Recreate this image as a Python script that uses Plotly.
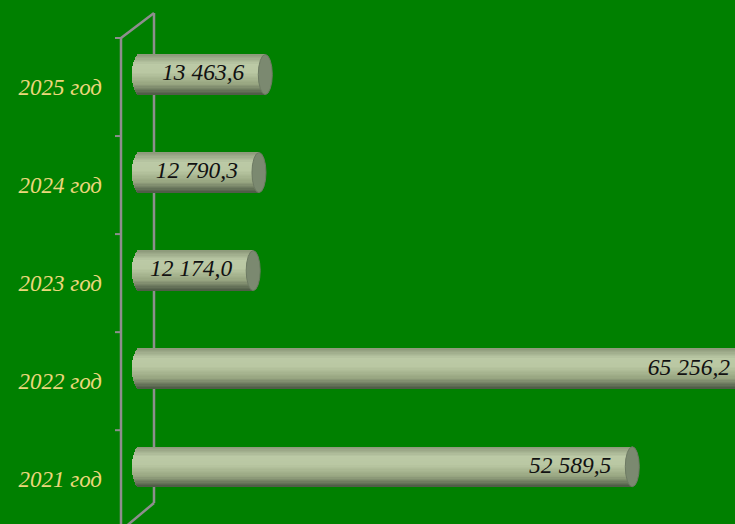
import numpy as np
import plotly.graph_objects as go

# data
years = ['2021 год', '2022 год', '2023 год', '2024 год', '2025 год']
values = [52589.5, 65256.2, 12174.0, 12790.3, 13463.6]
value_labels = ['52 589,5', '65 256,2', '12 174,0', '12 790,3', '13 463,6']

W, H = 735, 524
s = 0.00938          # px per unit along x
x_zero = 139         # pixel of x = 0
step = 98.05         # px between categories
c0 = 466.7           # pixel centre of first bar
depth_dx, depth_dy = 33, 25

xr = [-x_zero / s, (W - x_zero) / s]
yr = [(c0 - H) / step, c0 / step]
bw = 40 / step       # bar thickness in category units
cap = 7 / s          # half width of the ellipse ends

pos = list(range(len(years)))

def grad(t):
    # vertical shading of the cylinder, t = 0 top .. 1 bottom
    stops = [(0.0, (140, 152, 122)), (0.25, (188, 202, 166)), (0.45, (186, 200, 163)),
             (0.75, (150, 164, 128)), (1.0, (76, 88, 68))]
    for (t0, a), (t1, b) in zip(stops, stops[1:]):
        if t <= t1:
            f = (t - t0) / (t1 - t0)
            return 'rgb(%d,%d,%d)' % tuple(int(a[i] + (b[i] - a[i]) * f) for i in range(3))
    return 'rgb(76,88,68)'

fig = go.Figure()

N = 30
dh = bw / N
for k in range(N):
    t = (k + 0.5) / N
    u = 1 - 2 * t
    bulge = cap * np.sqrt(max(0.0, 1 - u * u))
    fig.add_trace(go.Bar(
        y=pos, x=[v + bulge for v in values], base=[-bulge] * len(values),
        orientation='h', width=dh * 1.05, offset=bw / 2 - (k + 1) * dh,
        marker=dict(color=grad(t), line=dict(width=0)),
        showlegend=False, hoverinfo='skip'))

# end caps
for p, v in zip(pos, values):
    fig.add_shape(type='circle', xref='x', yref='y', layer='above',
                  x0=v - cap, x1=v + cap, y0=p - bw / 2, y1=p + bw / 2,
                  fillcolor='#7b8970', line=dict(color='#6d7a63', width=1))

# value labels
fig.add_trace(go.Scatter(
    y=pos, x=[v - 21 / s for v in values], mode='text',
    text=['<i>%s</i>' % t for t in value_labels],
    textposition='middle left', cliponaxis=False,
    textfont=dict(family='Liberation Serif', size=23.5, color='#111111'),
    showlegend=False, hoverinfo='skip'))

# category labels on the front plane (second y axis shifted down)
fig.add_trace(go.Scatter(y=pos, x=[None] * len(pos), yaxis='y2', mode='markers',
                         showlegend=False, hoverinfo='skip'))

# 3d frame
def px_(x, y):
    return x / W, 1 - y / H

gray = '#8e8e8e'
fx, bx = 121, 121 + depth_dx
top_f, bot_f = 38, H + 4
lines = [((fx, top_f), (fx, bot_f)), ((bx, top_f - depth_dy), (bx, bot_f - depth_dy)),
         ((fx, top_f), (bx, top_f - depth_dy)), ((fx + 3, bot_f), (bx, bot_f - depth_dy))]
for (xa, ya), (xb, yb) in lines:
    x0, y0 = px_(xa, ya)
    x1, y1 = px_(xb, yb)
    fig.add_shape(type='line', xref='paper', yref='paper', layer='below',
                  x0=x0, y0=y0, x1=x1, y1=y1, line=dict(color=gray, width=2.5))
for i in range(len(years) + 1):
    ty = top_f + i * step
    x0, y0 = px_(fx - 6, ty)
    x1, y1 = px_(fx, ty)
    fig.add_shape(type='line', xref='paper', yref='paper', layer='below',
                  x0=x0, y0=y0, x1=x1, y1=y1, line=dict(color=gray, width=2))

fig.update_layout(
    width=W, height=H, margin=dict(l=0, r=0, t=0, b=0),
    paper_bgcolor='#008000', plot_bgcolor='rgba(0,0,0,0)',
    barmode='overlay', bargap=0,
    xaxis=dict(range=xr, visible=False, fixedrange=True),
    yaxis=dict(range=yr, visible=False, fixedrange=True),
    yaxis2=dict(range=[yr[0] + depth_dy / 2 / step, yr[1] + depth_dy / 2 / step],
                overlaying='y', anchor='free', position=fx / W, side='left',
                tickvals=pos, ticktext=['<i>%s</i>' % t for t in years],
                showline=False, showgrid=False, fixedrange=True,
                zeroline=False, ticks='', ticklabelstandoff=19,
                tickfont=dict(family='Liberation Serif', size=23, color='#ECD77C')),
    font=dict(family='Liberation Serif'),
)

fig.write_html("out.html", config={'displayModeBar': False},
               post_script="document.body.style.margin='0';document.body.style.background='#008000';")
